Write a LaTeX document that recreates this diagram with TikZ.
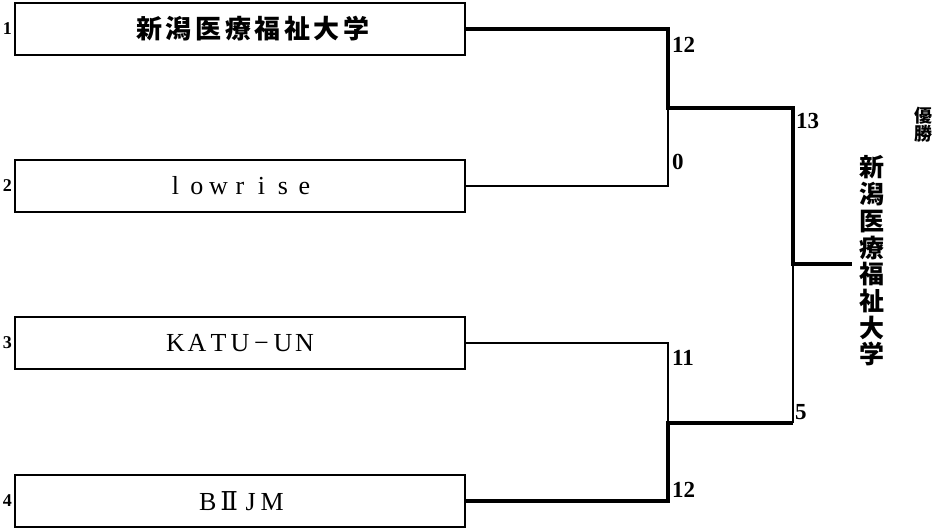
\documentclass[tikz,border=0pt]{standalone}
\usepackage{fontspec}
\setmainfont{Liberation Serif}
\newfontfamily\jpfont{Noto Sans CJK JP}
\newfontfamily\romanfont{DejaVu Serif}
\usetikzlibrary{positioning}
\tikzset
{
    teambox/.style  = {rectangle, draw=black, line width=1.8pt, minimum width=450pt, minimum height=52pt, inner sep=0pt, font=\fontsize{26}{26}\selectfont},
    seed/.style     = {inner sep=0pt, font=\bfseries\fontsize{18}{18}\selectfont},
    score/.style    = {anchor=west, inner sep=0pt, font=\bfseries\fontsize{23}{23}\selectfont},
    winline/.style  = {line width=3.6pt},
    loseline/.style = {line width=1.5pt}
}
% one fixed-width cell per character
\newcommand\fullwd[2][21.5pt]{\def\fullwdcell{#1}\fullwdloop#2\relax}
\def\fullwdloop#1{\ifx\relax#1\else\makebox[\fullwdcell]{#1}\expandafter\fullwdloop\fi}

\begin{document}
\begin{tikzpicture}[x=1pt, y=-1pt]
    \useasboundingbox (0,0) rectangle (935,530);
    % teams
    \node [teambox] (t1) at (240,29)  {\hspace*{26pt}\jpfont\bfseries\fontsize{26}{26}\selectfont\fullwd[29.6pt]{新潟医療福祉大学}};
    \node [teambox] (t2) at (240,186) {\fullwd{lowrise}};
    \node [teambox] (t3) at (240,343) {\fullwd{KATU−UN}};
    \node [teambox] (t4) at (240,501) {\fullwd{B{\romanfont Ⅱ}JM}};
    \node [seed, left=2pt of t1.west] (n1) {1};
    \node [seed, left=2pt of t2.west] (n2) {2};
    \node [seed, left=2pt of t3.west] (n3) {3};
    \node [seed, left=2pt of t4.west] (n4) {4};

    % joints
    \coordinate (m12) at (668,108);
    \coordinate (m34) at (668,423);
    \coordinate (fin) at (793,264);
    \coordinate (fin34) at (793,423);
    \coordinate (champend) at (852,264);

    \draw [loseline] (t2.east) -| (m12);
    \draw [loseline] (t3.east) -| (m34);
    \draw [loseline] (fin34) -- (fin);
    \draw [winline] (t1.east) -| (m12) -| (fin) -- (champend);
    \draw [winline] (t4.east) -| (m34) -- (fin34);

    % scores
    \node [score] (sc1) at (672,45) {12};
    \node [score] (sc2) at (672,162) {0};
    \node [score] (sc3) at (672,358) {11};
    \node [score] (sc4) at (672,490) {12};
    \node [score] (sc12) at (796,121) {13};
    \node [score] (sc34) at (795,412) {5};

    % champion
    \node [align=center, inner sep=0pt, font=\jpfont\bfseries\fontsize{25}{26.7}\selectfont] (champ) at (872,261)
        {新\\潟\\医\\療\\福\\祉\\大\\学};
    \node [align=center, inner sep=0pt, font=\jpfont\bfseries\fontsize{18}{18}\selectfont] (title) at (923,125)
        {優\\勝};
\end{tikzpicture}
\end{document}
